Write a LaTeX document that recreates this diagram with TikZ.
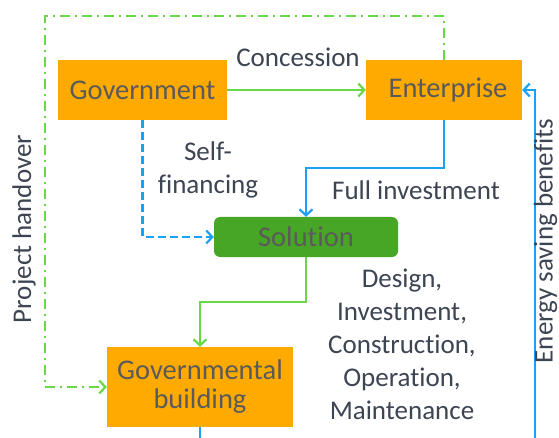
\documentclass[tikz,border=0pt]{standalone}
\usepackage{fontspec}
\setmainfont{Carlito}[Ligatures={NoCommon,NoContextual}]
\usetikzlibrary{arrows.meta}
\definecolor{boxorange}{HTML}{FFAA00}
\definecolor{boxgreen}{HTML}{47A626}
\definecolor{linegreen}{HTML}{66D944}
\definecolor{lineblue}{HTML}{1AA0F5}
\definecolor{boxtext}{HTML}{5A5A5A}
\definecolor{labeltext}{HTML}{3D4452}
\begin{document}
\begin{tikzpicture}[x=1pt,y=-1pt,
  party/.style={rectangle, fill=boxorange, draw=none, text=boxtext,
    font=\fontsize{28.5}{29}\selectfont, align=center, inner sep=0pt},
  solbox/.style={rectangle, rounded corners=6pt, fill=boxgreen, draw=none,
    text=boxtext, font=\fontsize{28.5}{29}\selectfont, inner sep=0pt},
  lbl/.style={text=labeltext, font=\fontsize{27}{33}\selectfont, align=center, inner sep=0pt},
  flow/.style={line width=2.2pt, -{Straight Barb[length=6pt,width=13pt,line width=2.2pt]}},
  greenflow/.style={flow, draw=linegreen},
  blueflow/.style={flow, draw=lineblue},
  handover/.style={greenflow, dash pattern=on 10pt off 5pt on 2pt off 5pt},
  selffin/.style={blueflow, dash pattern=on 8pt off 4pt}
]
\useasboundingbox (0,0) rectangle (559,438);
\clip (0,0) rectangle (559,438);
\fill[white] (0,0) rectangle (559,438);

% parties and solution
\node[party, minimum width=169pt, minimum height=60pt] (gov) at (142.5,90) {Government};
\node[party, minimum width=156pt, minimum height=60pt] (ent) at (444,90) {\hspace*{8pt}Enterprise};
\node[solbox, minimum width=184pt, minimum height=40pt] (sol) at (306,237) {Solution};
\node[party, minimum width=186pt, minimum height=80pt] (bld) at (200,387) {Governmental\\building};

% connectors
\draw[greenflow] (gov.east) -- (ent.west);
\draw[selffin] (gov.south) |- (sol.west);
\draw[blueflow] (ent.south) -- (ent.south |- 0,168) -| (sol.north);
\draw[greenflow] (sol.south) -- (sol.south |- 0,302) -| (bld.north);
\coordinate (hoCorner) at (45,16);
\draw[handover] (ent.north) |- (hoCorner) |- (bld.west);
\coordinate (esCorner) at (535,470);
\draw[blueflow] (bld.south) |- (esCorner) |- (ent.east);

% labels
\node[lbl, anchor=base] (lconc) at (298,67) {Concession};
\node[lbl] (lself) at (208,170) {Self-\\financing};
\node[lbl, anchor=base] (lfull) at (416,200) {Full investment};
\node[lbl] (lphase) at (402,344) {Design,\\Investment,\\Construction,\\Operation,\\Maintenance};
\node[lbl, rotate=90, anchor=base] (lho) at (31,229) {Project handover};
\node[lbl, rotate=90, anchor=base] (les) at (552.5,241) {Energy saving benefits};
\end{tikzpicture}
\end{document}
